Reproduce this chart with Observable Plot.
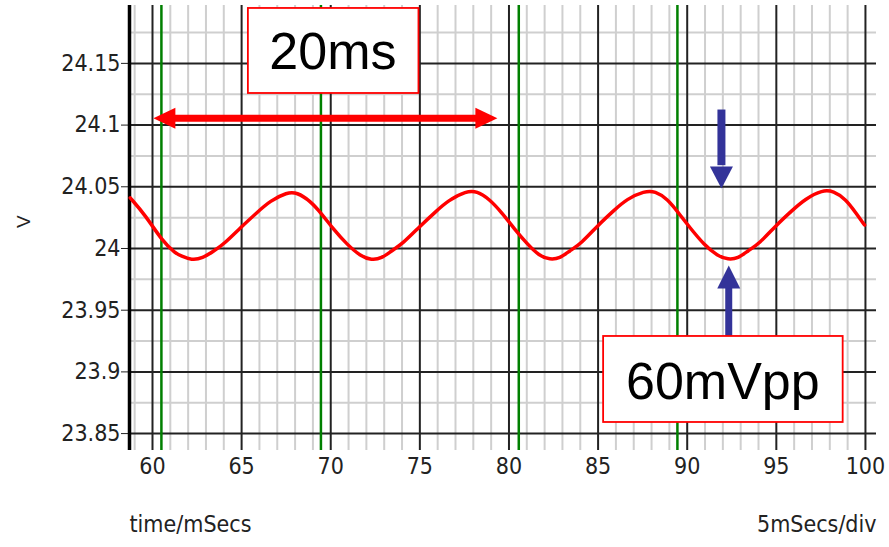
<!DOCTYPE html>
<html>
<head>
<meta charset="utf-8">
<script src="https://cdn.jsdelivr.net/npm/d3@7"></script>
<script src="https://cdn.jsdelivr.net/npm/@observablehq/plot@0.6"></script>
<style>
  html, body { margin: 0; padding: 0; background: #fff; }
  #chart svg { display: block; }
</style>
</head>
<body>
<div id="chart"></div>
<script>
// ---- data ----
const timeMs = [58.75, 59.6, 60.55, 61.3, 61.6, 62.2, 62.8, 63.45, 64.0, 64.95, 65.85, 66.6, 67.55, 68.1, 68.85, 69.5, 70.15, 70.9, 71.65, 72.3, 72.85, 73.4, 74.05, 75.0, 75.9, 76.6, 77.6, 78.2, 78.9, 79.6, 80.3, 81.0, 81.7, 82.3, 82.85, 83.4, 84.05, 85.0, 85.9, 86.6, 87.6, 88.2, 88.9, 89.5, 90.2, 90.95, 91.7, 92.3, 92.85, 93.4, 94.05, 95.0, 95.9, 96.6, 97.6, 98.2, 98.9, 99.5, 99.95];
const volts = [24.041, 24.027, 24.006, 23.996, 23.994, 23.9905, 23.992, 23.998, 24.0035, 24.017, 24.029, 24.0386, 24.0455, 24.0455, 24.0386, 24.028, 24.0156, 24.0035, 23.994, 23.9905, 23.992, 23.998, 24.004, 24.018, 24.030, 24.039, 24.0465, 24.0465, 24.040, 24.029, 24.016, 24.004, 23.994, 23.991, 23.992, 23.998, 24.004, 24.019, 24.031, 24.040, 24.0465, 24.0465, 24.040, 24.029, 24.016, 24.003, 23.994, 23.991, 23.992, 23.998, 24.004, 24.019, 24.031, 24.040, 24.0475, 24.0465, 24.040, 24.028, 24.019];

const timeTicks = [60, 65, 70, 75, 80, 85, 90, 95, 100];
const minorTimes = [59, 61, 62, 63, 64, 66, 67, 68, 69, 71, 72, 73, 74, 76, 77, 78, 79, 81, 82, 83, 84, 86, 87, 88, 89, 91, 92, 93, 94, 96, 97, 98, 99];
const voltTicks = [23.85, 23.9, 23.95, 24, 24.05, 24.1, 24.15];
const minorVolts = [23.875, 23.925, 23.975, 24.025, 24.075, 24.125, 24.175];
const greenMarkers = [60.5, 69.45, 80.55, 89.45];

const xDomain = [58.71, 100.62];
const yDomain = [23.8363, 24.1969];

// annotations (data coordinates)
const spanArrow = {t1: 60.05, t2: 79.35, shaft1: 61.2, shaft2: 78.2, v: 24.1055};
const downArrow = {t: 91.92, vTop: 24.1126, vBase: 24.0675, vTip: 24.0486};
const upArrow = {t: 92.33, vTip: 23.9862, vBase: 23.969, vBottom: 23.9287};
const labelBoxes = [
  {label: "20ms", t1: 65.38, t2: 74.95, v1: 24.1256, v2: 24.1945, tc: 70.12, vc: 24.159},
  {label: "60mVpp", t1: 85.31, t2: 98.75, v1: 23.859, v2: 23.9287, tc: 92.0, vc: 23.8915}
];

const curve = timeMs.map((t, i) => ({t, v: volts[i]}));

// arrowhead symbols (tip at origin)
const headRight = {draw(c) { c.moveTo(0, 0); c.lineTo(-22, -10.5); c.lineTo(-22, 10.5); c.closePath(); }};
const headLeft = {draw(c) { c.moveTo(0, 0); c.lineTo(22, -10.5); c.lineTo(22, 10.5); c.closePath(); }};
const headDown = {draw(c) { c.moveTo(0, 0); c.lineTo(-11.5, -22); c.lineTo(11.5, -22); c.closePath(); }};
const headUp = {draw(c) { c.moveTo(0, 0); c.lineTo(-11.5, 23); c.lineTo(11.5, 23); c.closePath(); }};

const narrow = "'Liberation Sans Narrow', 'Arial Narrow', 'DejaVu Sans Condensed', sans-serif";
const red = "#ff0000";
const blue = "#333399";

const chart = Plot.plot({
  width: 889,
  height: 547,
  marginLeft: 129,
  marginRight: 13,
  marginTop: 5,
  marginBottom: 97,
  style: {fontFamily: narrow, fontSize: "23px", color: "#222", background: "#fff"},
  x: {domain: xDomain, ticks: timeTicks, tickSize: 0, tickPadding: 7, label: null, tickFormat: d => String(d)},
  y: {domain: yDomain, ticks: voltTicks, tickSize: 8, tickPadding: 1, label: null, tickFormat: d => String(d)},
  marks: [
    Plot.ruleX(minorTimes, {stroke: "#cfcfcf", strokeWidth: 2}),
    Plot.ruleY(minorVolts, {stroke: "#cfcfcf", strokeWidth: 2}),
    Plot.ruleX(timeTicks, {stroke: "#222", strokeWidth: 2}),
    Plot.ruleY(voltTicks, {stroke: "#222", strokeWidth: 2}),
    Plot.ruleX(greenMarkers, {stroke: "#008000", strokeWidth: 2.5}),
    Plot.ruleX([xDomain[0]], {stroke: "#000", strokeWidth: 3.5}),
    Plot.line(curve, {x: "t", y: "v", stroke: red, strokeWidth: 3.5, curve: "basis"}),
    // red double arrow
    Plot.link([spanArrow], {x1: "shaft1", x2: "shaft2", y1: "v", y2: "v", stroke: red, strokeWidth: 7}),
    Plot.dot([spanArrow], {x: "t1", y: "v", symbol: headLeft, fill: red, stroke: "none"}),
    Plot.dot([spanArrow], {x: "t2", y: "v", symbol: headRight, fill: red, stroke: "none"}),
    // blue arrows
    Plot.link([downArrow], {x1: "t", x2: "t", y1: "vTop", y2: "vBase", stroke: blue, strokeWidth: 8}),
    Plot.dot([downArrow], {x: "t", y: "vTip", symbol: headDown, fill: blue, stroke: "none"}),
    Plot.link([upArrow], {x1: "t", x2: "t", y1: "vBase", y2: "vBottom", stroke: blue, strokeWidth: 7}),
    Plot.dot([upArrow], {x: "t", y: "vTip", symbol: headUp, fill: blue, stroke: "none"}),
    // label boxes
    Plot.rect(labelBoxes, {x1: "t1", x2: "t2", y1: "v1", y2: "v2", fill: "#fff", stroke: red, strokeWidth: 1.8}),
    Plot.text(labelBoxes, {x: "tc", y: "vc", text: "label", fill: "#000", fontSize: 52, fontFamily: "'Liberation Sans', Arial, sans-serif"}),
    // axis labels
    Plot.text(["V"], {frameAnchor: "left", dx: -106, rotate: -90, fontSize: 19, fill: "#222", fontFamily: "'Liberation Sans', Arial, sans-serif"}),
    Plot.text(["time/mSecs"], {frameAnchor: "bottom-left", textAnchor: "start", dy: 81, fill: "#222"}),
    Plot.text(["5mSecs/div"], {frameAnchor: "bottom-right", textAnchor: "end", dy: 81, fill: "#222"})
  ]
});

document.getElementById("chart").appendChild(chart);
</script>
</body>
</html>
